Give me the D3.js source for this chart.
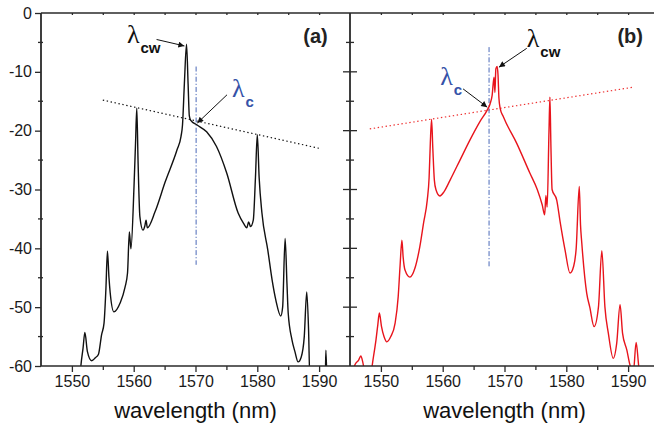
<!DOCTYPE html>
<html>
<head>
<meta charset="utf-8">
<script src="https://cdn.jsdelivr.net/npm/d3@7"></script>
<style>
body { margin: 0; background: #fff; }
svg { display: block; font-family: "Liberation Sans", Arial, sans-serif; }
.axis path { display: none; }
.axis line { stroke: #2a2a2a; stroke-width: 1.3; }
.axis text { font-size: 16px; fill: #1a1a1a; }
</style>
</head>
<body>
<div id="chart"></div>
<script>
// wavelength (nm), power (dB)
const wavelengthTicks = [1550, 1560, 1570, 1580, 1590];
const wavelengthMinor = [1555, 1565, 1575, 1585];
const powerTicks = [0, -10, -20, -30, -40, -50, -60];
const powerMinor = [-5, -15, -25, -35, -45, -55];

const spectrumA = [
    [1551.3, -62], [1551.45, -60], [1551.8, -57], [1552.1, -54.3], [1552.5, -57.5],
    [1553.2, -59.1], [1553.8, -58.6], [1554.3, -58], [1554.8, -54.7], [1555.2, -52.7],
    [1555.5, -47], [1555.75, -40.5], [1556.0, -45], [1556.2, -47.6], [1556.8, -50.8],
    [1557.8, -49.3], [1558.6, -46.6], [1559.0, -44.2], [1559.3, -37.2], [1559.55, -40.1],
    [1560.05, -29.5], [1560.3, -22], [1560.5, -16.2], [1560.7, -25], [1561.0, -34.6],
    [1561.5, -36.9], [1561.8, -36.2], [1562.0, -35.2], [1562.2, -36.5], [1563.45, -33.8],
    [1565.1, -28.7], [1567.0, -23.3], [1567.65, -21], [1567.9, -19], [1568.2, -12],
    [1568.55, -5.3], [1568.8, -12], [1569.0, -17.5], [1569.2, -18.2], [1570.2, -19],
    [1571.8, -20.2], [1573.4, -22.7], [1575.05, -27.2], [1576.9, -34], [1577.8, -35.8],
    [1578.3, -36.5], [1578.6, -35.5], [1578.9, -36.3], [1579.35, -35.2], [1579.7, -28],
    [1580.0, -20.7], [1580.3, -28], [1580.75, -34], [1581.7, -40.3], [1582.4, -45.4],
    [1583.0, -48.8], [1583.8, -51.5], [1584.1, -50], [1584.5, -38.3], [1584.8, -46],
    [1585.0, -51], [1585.6, -55.5], [1586.1, -57.6], [1586.6, -59.3], [1587.1, -58.5],
    [1587.6, -55], [1588.0, -47.4], [1588.3, -54], [1588.5, -62], [1591.0, -62],
    [1591.1, -57.3], [1591.25, -62]
];

const spectrumB = [
    [1545.5, -61], [1545.8, -59.8], [1546.4, -59], [1546.75, -58.3], [1547.1, -59.5],
    [1547.4, -61], [1548.35, -61], [1548.8, -58.4], [1549.2, -55.6], [1549.5, -53],
    [1549.75, -51], [1550.1, -53.3], [1550.5, -55], [1550.95, -55.9], [1551.6, -55],
    [1552.3, -52.7], [1552.8, -48.2], [1553.1, -43], [1553.4, -38.6], [1553.6, -41.5],
    [1553.9, -43.7], [1554.7, -44.9], [1555.5, -43.4], [1556.3, -39.7], [1556.9, -35.7],
    [1557.5, -31.8], [1557.8, -28], [1558.0, -22], [1558.2, -18.1], [1558.4, -23],
    [1558.65, -28.4], [1558.9, -30], [1559.55, -31.1], [1560.2, -30.4], [1561.2, -28.4],
    [1562.8, -25], [1564.4, -21.6], [1566.0, -18.5], [1567.2, -16.5], [1567.65, -15.5],
    [1568.0, -14], [1568.3, -10.9], [1568.45, -13.5], [1568.6, -9.5], [1568.8, -9.1],
    [1568.95, -10.5], [1569.1, -14.5], [1569.3, -16.2], [1569.8, -17.6], [1572.0, -22.2],
    [1574.1, -27.2], [1575.3, -30], [1576.1, -32.6], [1576.5, -34.3], [1576.7, -31],
    [1576.9, -33], [1577.2, -20], [1577.35, -14.3], [1577.5, -22], [1577.7, -30],
    [1578.45, -31.8], [1579.0, -35.5], [1579.8, -40.3], [1580.6, -44.2], [1581.2, -43],
    [1581.6, -40], [1582.1, -29.5], [1582.3, -36], [1582.5, -39], [1583.3, -47.6],
    [1583.8, -50], [1584.5, -53.3], [1585.2, -50], [1585.75, -40.4], [1586.25, -50],
    [1586.8, -54.4], [1587.6, -58.7], [1588.15, -56.2], [1588.7, -49.6], [1589.1, -54.4],
    [1589.8, -57.3], [1590.3, -59.8], [1590.85, -61], [1591.3, -56], [1591.65, -59.3],
    [1591.8, -61]
];

// gain envelope and centre wavelength guides
const envelopeA = [[1555, -14.8], [1590, -23]];
const envelopeB = [[1548.2, -19.7], [1590.9, -12.6]];
const centreA = [[1570.1, -9.1], [1570.1, -42.8]];
const centreB = [[1567.5, -5.8], [1567.5, -43.4]];

const annotationsA = [
    {sub: "cw", colour: "#111", label: [1558.9, -5.1], from: [1563.7, -4.5], to: [1568.2, -5.6]},
    {sub: "c", colour: "#3552a8", label: [1575.9, -14.3], from: [1575.1, -13.9], to: [1570.3, -18.7]}
];
const annotationsB = [
    {sub: "c", colour: "#3552a8", label: [1559.6, -12.2], from: [1563.3, -12.9], to: [1567.2, -16.0]},
    {sub: "cw", colour: "#111", label: [1573.6, -5.8], from: [1573.6, -6.0], to: [1569.1, -9.2]}
];

const W = 654, H = 427;
const plotTop = 13, plotBottom = 366, plotLeft = 41, panelW = 309;

const svg = d3.select("#chart").append("svg")
    .attr("width", W)
    .attr("height", H);

const defs = svg.append("defs");
defs.append("marker")
    .attr("id", "arrow")
    .attr("viewBox", "0 0 10 10")
    .attr("refX", 10).attr("refY", 5)
    .attr("markerWidth", 8).attr("markerHeight", 6)
    .attr("markerUnits", "userSpaceOnUse")
    .attr("orient", "auto")
    .append("path")
    .attr("d", "M0,0 L10,5 L0,10 z")
    .attr("fill", "#111");

const y = d3.scaleLinear().domain([-60, 0]).range([plotBottom, plotTop]);

class Panel {
    constructor(id, x0, opts) {
	this.id = id;
	this.opts = opts;
	this.x = d3.scaleLinear().domain([1545, 1595]).range([x0, x0 + panelW]);
	defs.append("clipPath").attr("id", `clip-${id}`)
	    .append("rect")
	    .attr("x", x0).attr("y", plotTop)
	    .attr("width", panelW).attr("height", plotBottom - plotTop);
	this.g = svg.append("g").attr("class", `panel-${id}`);
    }

    draw() {
	const x = this.x, o = this.opts, g = this.g;
	const line = d3.line().x(d => x(d[0])).y(d => y(d[1]));
	const plot = g.append("g").attr("clip-path", `url(#clip-${this.id})`);

	plot.append("path")
	    .attr("d", line(o.envelope))
	    .attr("fill", "none")
	    .attr("stroke", o.envelopeColour)
	    .attr("stroke-width", 1.2)
	    .attr("stroke-dasharray", "1.4,2.6");

	plot.append("path")
	    .attr("d", line(o.centre))
	    .attr("fill", "none")
	    .attr("stroke", "#4a68b8")
	    .attr("stroke-width", 1)
	    .attr("stroke-dasharray", "5,2,1.2,2");

	plot.append("path")
	    .attr("d", d3.line().x(d => x(d[0])).y(d => y(d[1])).curve(d3.curveMonotoneX)(o.spectrum))
	    .attr("fill", "none")
	    .attr("stroke", o.colour)
	    .attr("stroke-width", 1.4)
	    .attr("stroke-linejoin", "round");

	// axes
	g.append("g").attr("class", "axis")
	    .attr("transform", `translate(0,${plotBottom})`)
	    .call(d3.axisBottom(x).tickValues(wavelengthTicks).tickSize(6).tickPadding(4)
		  .tickFormat(d3.format("d")));
	g.append("g").attr("class", "axis")
	    .attr("transform", `translate(0,${plotBottom})`)
	    .call(d3.axisBottom(x).tickValues(wavelengthMinor).tickSize(4).tickFormat(""));
	g.append("g").attr("class", "axis")
	    .attr("transform", `translate(0,${plotTop})`)
	    .call(d3.axisBottom(x).tickValues(wavelengthTicks.concat(wavelengthMinor)).tickSize(2).tickFormat(""));

	const x0 = x.range()[0], x1 = x.range()[1];
	g.append("line")
	    .attr("x1", x0).attr("x2", x1)
	    .attr("y1", plotBottom).attr("y2", plotBottom)
	    .attr("stroke", "#2a2a2a").attr("stroke-width", 1.5);
	g.append("line")
	    .attr("x1", x0).attr("x2", x1)
	    .attr("y1", plotTop).attr("y2", plotTop)
	    .attr("stroke", "#2a2a2a").attr("stroke-width", 1.5);
	g.append("line")
	    .attr("x1", x0).attr("x2", x0)
	    .attr("y1", plotTop).attr("y2", plotBottom)
	    .attr("stroke", "#2a2a2a").attr("stroke-width", 1.8);

	if (o.yLabels) {
	    const yAxis = g.append("g").attr("class", "axis")
		.attr("transform", `translate(${x0},0)`);
	    yAxis.call(d3.axisLeft(y).tickValues(powerTicks).tickSize(6).tickPadding(3)
		       .tickFormat(d => String(d)));
	    g.append("g").selectAll("line")
		.data(powerMinor).join("line")
		.attr("x1", x0 - 3).attr("x2", x0 + 2)
		.attr("y1", d => y(d)).attr("y2", d => y(d))
		.attr("stroke", "#2a2a2a").attr("stroke-width", 1.3);
	} else {
	    g.append("g").selectAll("line")
		.data(powerTicks.slice(1, -1)).join("line")
		.attr("x1", x0 - 7).attr("x2", x0 + 7)
		.attr("y1", d => y(d)).attr("y2", d => y(d))
		.attr("stroke", "#2a2a2a").attr("stroke-width", 1.3);
	    g.append("g").selectAll("line")
		.data(powerMinor).join("line")
		.attr("x1", x0 - 4).attr("x2", x0 + 4)
		.attr("y1", d => y(d)).attr("y2", d => y(d))
		.attr("stroke", "#2a2a2a").attr("stroke-width", 1.3);
	}

	g.append("text")
	    .attr("x", x(1570)).attr("y", 418)
	    .attr("text-anchor", "middle")
	    .style("font-size", "22px")
	    .attr("fill", "#111")
	    .text("wavelength (nm)");

	g.append("text")
	    .attr("x", x(o.tagAt[0])).attr("y", y(o.tagAt[1]))
	    .attr("text-anchor", "end")
	    .style("font-size", "20px")
	    .style("font-weight", "bold")
	    .attr("fill", "#222")
	    .text(o.tag);

	// lambda labels with arrows
	o.annotations.forEach(a => {
	    const t = g.append("text")
		.attr("x", x(a.label[0])).attr("y", y(a.label[1]))
		.attr("fill", a.colour);
	    t.append("tspan")
		.style("font-family", "'Liberation Serif', 'DejaVu Serif', serif")
		.style("font-size", "26px")
		.text("λ");
	    t.append("tspan")
		.attr("dy", 10)
		.attr("dx", 1)
		.style("font-size", "15px")
		.style("font-weight", "bold")
		.text(a.sub);
	    g.append("line")
		.attr("x1", x(a.from[0])).attr("y1", y(a.from[1]))
		.attr("x2", x(a.to[0])).attr("y2", y(a.to[1]))
		.attr("stroke", "#111")
		.attr("stroke-width", 1)
		.attr("marker-end", "url(#arrow)");
	});
    }
}

const panelA = new Panel("a", plotLeft, {
    spectrum: spectrumA, colour: "#111",
    envelope: envelopeA, envelopeColour: "#111",
    centre: centreA, annotations: annotationsA,
    tag: "(a)", tagAt: [1591.4, -5.1], yLabels: true
});
const panelB = new Panel("b", plotLeft + panelW, {
    spectrum: spectrumB, colour: "#e8141c",
    envelope: envelopeB, envelopeColour: "#ee3030",
    centre: centreB, annotations: annotationsB,
    tag: "(b)", tagAt: [1592.4, -5.1], yLabels: false
});
panelA.draw();
panelB.draw();
</script>
</body>
</html>
